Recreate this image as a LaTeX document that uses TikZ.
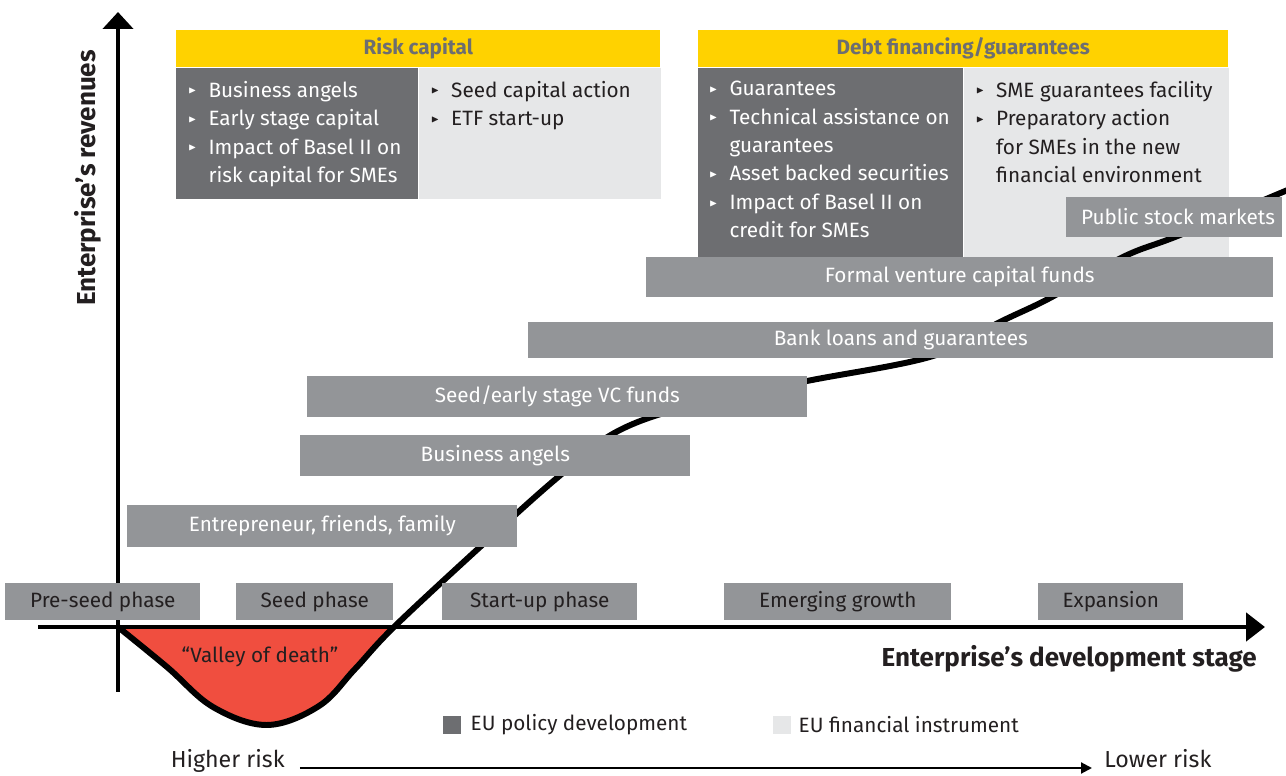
\documentclass[tikz,border=0pt]{standalone}
\usepackage{fontspec}
\setmainfont{Fira Sans}
\usepackage{amssymb}
\usetikzlibrary{arrows.meta,positioning}

\definecolor{polgray}{HTML}{6D6E71}
\definecolor{instgray}{HTML}{E6E7E8}
\definecolor{bargray}{HTML}{939598}
\definecolor{headyellow}{HTML}{FFD200}
\definecolor{valleyred}{HTML}{F04E3F}
\definecolor{inkblack}{HTML}{231F20}

\newcommand{\tri}{\raisebox{0.3ex}{\scalebox{0.5}{$\blacktriangleright$}}}
\newcommand{\itm}{\makebox[11.5pt][l]{\tri}}
\newcommand{\cont}{\hspace*{11.5pt}}
\newcommand{\txtsize}{\fontsize{11.8pt}{16.2pt}\selectfont}

\tikzset{
  bar/.style={fill=bargray, text=white, minimum height=0.8cm, inner sep=0pt, font=\txtsize},
  phasebox/.style={fill=bargray, text=inkblack, minimum height=0.74cm, inner sep=0pt, font=\txtsize},
  headbox/.style={fill=headyellow, text=polgray, minimum height=0.74cm, inner sep=0pt, font=\txtsize\bfseries},
  polbox/.style={fill=polgray, inner sep=0pt},
  instbox/.style={fill=instgray, inner sep=0pt},
  list/.style={align=left, inner sep=0pt, font=\txtsize},
  axislabel/.style={font=\fontsize{14.8pt}{17pt}\selectfont\bfseries, text=inkblack, inner sep=0pt}
}

\begin{document}
\begin{tikzpicture}[x=0.02cm, y=-0.02cm]
   \useasboundingbox (0,0) rectangle (1286,776);

   % Risk capital panel
   \node [headbox, minimum width=9.68cm, anchor=north west] (riskhead) at (176,30) {Risk capital};
   \node [polbox, minimum width=4.84cm, minimum height=2.62cm, anchor=north west] (riskpol) at (riskhead.south west) {};
   \node [instbox, minimum width=4.84cm, minimum height=2.62cm, anchor=north west] (riskinst) at (riskpol.north east) {};
   \node [list, text=white, anchor=north west, below right=0.26cm and 0.24cm of riskpol.north west] (risklist1)
     {\itm Business angels\\ \itm Early stage capital\\ \itm Impact of Basel II on\\ \cont risk capital for SMEs};
   \node [list, text=inkblack, anchor=north west, below right=0.26cm and 0.24cm of riskinst.north west] (risklist2)
     {\itm Seed capital action\\ \itm ETF start-up};

   % Debt financing panel
   \node [headbox, minimum width=10.6cm, anchor=north west] (debthead) at (698,30) {Debt financing/guarantees};
   \node [polbox, minimum width=5.3cm, minimum height=3.78cm, anchor=north west] (debtpol) at (debthead.south west) {};
   \node [instbox, minimum width=5.3cm, minimum height=3.78cm, anchor=north west] (debtinst) at (debtpol.north east) {};
   \node [list, text=white, anchor=north west, below right=0.26cm and 0.22cm of debtpol.north west] (debtlist1)
     {\itm Guarantees\\ \itm Technical assistance on\\ \cont guarantees\\ \itm Asset backed securities\\
      \itm Impact of Basel II on\\ \cont credit for SMEs};
   \node [list, text=inkblack, anchor=north west, below right=0.26cm and 0.24cm of debtinst.north west] (debtlist2)
     {\itm SME guarantees facility\\ \itm Preparatory action\\ \cont for SMEs in the new\\ \cont financial environment};

   % Valley of death
   \begin{scope}
     \clip (118,627) rectangle (400,760);
     \fill [valleyred] plot [smooth, tension=0.6] coordinates {(118,627) (167,667) (213,707) (267,725) (319,706)
       (355,669) (394,627) (480,547) (557,478) (618,431) (700,403) (807,381) (933,356) (1000,322) (1050,298)
       (1123,257) (1180,235) (1290,189)} -- cycle;
   \end{scope}

   % Revenue curve
   \draw [line width=3.4pt] plot [smooth, tension=0.6] coordinates {(118,627) (167,667) (213,707) (267,725) (319,706)
     (355,669) (394,627) (480,547) (557,478) (618,431) (700,403) (807,381) (933,356) (1000,322) (1050,298)
     (1123,257) (1180,235) (1290,189)};

   % Draw axes
   \coordinate (origin) at (118,627);
   \coordinate (xstart) at (38,627);
   \coordinate (xend) at (1265,627);
   \coordinate (ystart) at (118,692);
   \coordinate (yend) at (118,12);
   \draw [line width=2.8pt, -{Triangle[length=0.38cm, width=0.56cm]}] (xstart) -- (xend);
   \draw [line width=2.8pt, -{Triangle[length=0.34cm, width=0.6cm]}] (ystart) -- (yend);
   \node [axislabel, rotate=90] (ylabel) at (88,178) {Enterprise’s revenues};
   \node [axislabel, anchor=east] (xlabel) at (1257,659) {Enterprise’s development stage};

   % Financing sources
   \node [bar, minimum width=4.32cm, anchor=west] (stock) at (1066,217) {\hspace*{0.15cm}Public stock markets};
   \node [bar, minimum width=12.54cm, anchor=west] (formal) at (646,277) {Formal venture capital funds};
   \node [bar, minimum width=14.9cm, minimum height=0.72cm, anchor=west] (bank) at (528,340) {Bank loans and guarantees};
   \node [bar, minimum width=10cm, minimum height=0.82cm, anchor=west] (seedvc) at (307,396.5) {Seed/early stage VC funds};
   \node [bar, minimum width=7.8cm, minimum height=0.82cm, anchor=west] (angels) at (300,455.5) {Business angels};
   \node [bar, minimum width=7.8cm, minimum height=0.84cm, anchor=west] (family) at (127,526) {Entrepreneur, friends, family};

   % Phases
   \node [phasebox, minimum width=3.9cm, anchor=west] (preseed) at (5,601.5) {Pre-seed phase};
   \node [phasebox, minimum width=3.14cm, anchor=west] (seed) at (236,601.5) {Seed phase};
   \node [phasebox, minimum width=3.9cm, anchor=west] (startup) at (442,601.5) {Start-up phase};
   \node [phasebox, minimum width=4.54cm, anchor=west] (emerging) at (724,601.5) {Emerging growth};
   \node [phasebox, minimum width=2.9cm, anchor=west] (expansion) at (1038,601.5) {Expansion};

   \node [font=\txtsize, text=inkblack] (valley) at (260,657) {“Valley of death”};

   % Legend
   \node [polbox, minimum size=0.36cm] (legpol) at (452,725) {};
   \node [font=\txtsize, text=inkblack, inner sep=0pt, right=0.18cm of legpol] (legpoltext) {EU policy development};
   \node [instbox, minimum size=0.36cm] (leginst) at (782,725) {};
   \node [font=\txtsize, text=inkblack, inner sep=0pt, right=0.14cm of leginst] (leginsttext) {EU financial instrument};

   % Risk scale
   \node [font=\fontsize{13.2pt}{15pt}\selectfont, text=inkblack, inner sep=0pt, anchor=base east] (higher) at (285,768) {Higher risk};
   \node [font=\fontsize{13.2pt}{15pt}\selectfont, text=inkblack, inner sep=0pt, anchor=base west] (lower) at (1104,768) {Lower risk};
   \draw [line width=1.2pt, -{Triangle[length=0.22cm, width=0.22cm]}] ([xshift=0.3cm]higher.east |- 0,768) -- ([xshift=-0.24cm]lower.west |- 0,768);
\end{tikzpicture}
\end{document}
